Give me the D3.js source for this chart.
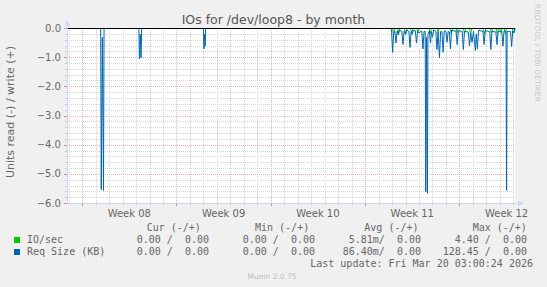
<!DOCTYPE html>
<html>
<head>
<meta charset="utf-8">
<script src="https://cdn.jsdelivr.net/npm/d3@7"></script>
<style>
  html, body { margin: 0; padding: 0; background: #f0f0f0; }
  svg { display: block; }
  text { font-family: "DejaVu Sans", sans-serif; fill: #666666; }
  .mono { font-family: "DejaVu Sans Mono", monospace; font-size: 10px; white-space: pre; }
</style>
</head>
<body>
<svg id="chart" width="547" height="287"></svg>
<script>
// time range of the month graph
const rangeStart = "2026-02-14T21:00";
const rangeEnd = "2026-03-20T03:00";

const weekStarts = ["2026-02-16T00:00", "2026-02-23T00:00", "2026-03-02T00:00", "2026-03-09T00:00", "2026-03-16T00:00"];
const weekLabels = ["Week 08", "Week 09", "Week 10", "Week 11", "Week 12"];
const yTicks = [0, -1, -2, -3, -4, -5, -6];

// Req Size (KB), read side (negative)
const reqSize = [
  ["2026-02-14T21:00", 0],
  ["2026-02-17T09:00", 0],
  ["2026-02-17T10:00", -5.52],
  ["2026-02-17T12:00", -0.3],
  ["2026-02-17T14:00", -5.55],
  ["2026-02-17T15:00", 0],
  ["2026-02-20T05:00", 0],
  ["2026-02-20T06:00", -1.04],
  ["2026-02-20T07:30", -0.2],
  ["2026-02-20T09:00", -1.0],
  ["2026-02-20T10:00", 0],
  ["2026-02-25T00:00", 0],
  ["2026-02-25T01:00", -0.7],
  ["2026-02-25T02:00", -0.2],
  ["2026-02-25T03:00", -0.6],
  ["2026-02-25T04:00", 0],
  ["2026-03-10T23:00", 0],
  ["2026-03-11T01:00", -0.82],
  ["2026-03-11T03:00", -0.1],
  ["2026-03-11T05:00", -0.12],
  ["2026-03-11T07:00", -0.5],
  ["2026-03-11T09:00", -0.08],
  ["2026-03-11T11:00", -0.22],
  ["2026-03-11T13:00", -0.06],
  ["2026-03-11T17:30", -0.1],
  ["2026-03-11T19:30", -0.55],
  ["2026-03-11T21:30", -0.08],
  ["2026-03-12T00:00", -0.2],
  ["2026-03-12T02:00", -0.05],
  ["2026-03-12T06:00", -0.1],
  ["2026-03-12T08:00", -0.65],
  ["2026-03-12T10:00", -0.1],
  ["2026-03-12T12:00", -0.2],
  ["2026-03-12T14:00", -0.06],
  ["2026-03-12T17:30", -0.08],
  ["2026-03-12T19:30", -0.5],
  ["2026-03-12T21:30", -0.1],
  ["2026-03-13T00:00", -0.15],
  ["2026-03-13T05:00", -0.08],
  ["2026-03-13T07:00", -0.7],
  ["2026-03-13T09:00", -0.1],
  ["2026-03-13T11:00", -0.1],
  ["2026-03-13T12:00", -5.6],
  ["2026-03-13T13:30", -0.3],
  ["2026-03-13T15:00", -5.65],
  ["2026-03-13T16:00", -0.2],
  ["2026-03-13T18:30", -0.08],
  ["2026-03-13T20:30", -0.5],
  ["2026-03-13T22:00", -0.1],
  ["2026-03-14T00:00", -0.3],
  ["2026-03-14T02:00", -0.05],
  ["2026-03-14T06:00", -0.1],
  ["2026-03-14T08:00", -0.72],
  ["2026-03-14T10:00", -0.12],
  ["2026-03-14T12:30", -1.0],
  ["2026-03-14T14:30", -0.1],
  ["2026-03-14T17:00", -0.12],
  ["2026-03-14T19:00", -0.82],
  ["2026-03-14T21:00", -0.08],
  ["2026-03-15T00:00", -0.1],
  ["2026-03-15T02:00", -0.47],
  ["2026-03-15T04:00", -0.1],
  ["2026-03-15T06:00", -0.12],
  ["2026-03-15T08:00", -0.7],
  ["2026-03-15T10:00", -0.06],
  ["2026-03-15T18:00", -0.1],
  ["2026-03-15T20:00", -0.55],
  ["2026-03-15T22:00", -0.08],
  ["2026-03-16T05:00", -0.1],
  ["2026-03-16T07:00", -0.72],
  ["2026-03-16T09:00", -0.1],
  ["2026-03-16T16:00", -0.12],
  ["2026-03-16T18:00", -0.6],
  ["2026-03-16T20:00", -0.15],
  ["2026-03-16T22:30", -0.47],
  ["2026-03-17T01:00", -0.1],
  ["2026-03-17T04:30", -0.75],
  ["2026-03-17T06:00", -0.2],
  ["2026-03-17T08:00", -0.7],
  ["2026-03-17T10:00", -0.06],
  ["2026-03-17T18:00", -0.1],
  ["2026-03-17T20:00", -0.55],
  ["2026-03-17T22:00", -0.08],
  ["2026-03-18T06:00", -0.1],
  ["2026-03-18T08:00", -0.72],
  ["2026-03-18T10:00", -0.1],
  ["2026-03-18T17:00", -0.12],
  ["2026-03-18T19:00", -0.55],
  ["2026-03-18T21:00", -0.1],
  ["2026-03-19T03:30", -0.1],
  ["2026-03-19T05:30", -0.6],
  ["2026-03-19T07:30", -0.08],
  ["2026-03-19T11:00", -0.1],
  ["2026-03-19T12:00", -5.55],
  ["2026-03-19T13:00", -0.1],
  ["2026-03-19T19:00", -0.1],
  ["2026-03-19T21:00", -0.62],
  ["2026-03-19T23:00", -0.08],
  ["2026-03-20T01:00", -0.15],
  ["2026-03-20T03:00", 0]
];

// IO/sec, read side (negative)
const ioSec = [
  ["2026-02-14T21:00", 0],
  ["2026-03-11T01:00", 0],
  ["2026-03-11T03:00", -0.17],
  ["2026-03-11T05:00", 0],
  ["2026-03-11T10:00", 0],
  ["2026-03-11T12:00", -0.15],
  ["2026-03-11T14:00", 0],
  ["2026-03-11T22:00", 0],
  ["2026-03-12T00:30", -0.18],
  ["2026-03-12T03:00", 0],
  ["2026-03-12T09:00", 0],
  ["2026-03-12T11:00", -0.15],
  ["2026-03-12T13:00", 0],
  ["2026-03-12T20:00", 0],
  ["2026-03-12T22:00", -0.15],
  ["2026-03-13T00:00", 0],
  ["2026-03-13T18:00", 0],
  ["2026-03-13T20:00", -0.18],
  ["2026-03-13T22:00", 0],
  ["2026-03-14T08:00", 0],
  ["2026-03-14T10:00", -0.16],
  ["2026-03-14T12:00", 0],
  ["2026-03-15T07:00", 0],
  ["2026-03-15T09:30", -0.18],
  ["2026-03-15T12:00", 0],
  ["2026-03-15T18:00", 0],
  ["2026-03-15T20:00", -0.15],
  ["2026-03-15T22:00", 0],
  ["2026-03-16T07:00", 0],
  ["2026-03-16T09:00", -0.17],
  ["2026-03-16T11:00", 0],
  ["2026-03-16T18:00", 0],
  ["2026-03-16T20:00", -0.2],
  ["2026-03-16T22:00", 0],
  ["2026-03-17T18:00", 0],
  ["2026-03-17T20:30", -0.18],
  ["2026-03-17T23:00", 0],
  ["2026-03-18T07:00", 0],
  ["2026-03-18T09:00", -0.15],
  ["2026-03-18T11:00", 0],
  ["2026-03-18T17:00", 0],
  ["2026-03-18T19:30", -0.17],
  ["2026-03-18T22:00", 0],
  ["2026-03-19T00:00", 0],
  ["2026-03-19T02:00", -0.15],
  ["2026-03-19T04:00", 0],
  ["2026-03-19T08:00", 0],
  ["2026-03-19T10:00", -0.18],
  ["2026-03-19T12:00", 0],
  ["2026-03-19T22:00", 0],
  ["2026-03-20T00:30", -0.16],
  ["2026-03-20T03:00", 0]
];

// legend
const legendNames = ["IO/sec", "Req Size (KB)"];
const legendColors = ["#00cc00", "#0066b3"];
const legendHeaders = ["Cur (-/+)", "Min (-/+)", "Avg (-/+)", "Max (-/+)"];
const curValues = ["0.00 /  0.00", "0.00 /  0.00"];
const minValues = ["0.00 /  0.00", "0.00 /  0.00"];
const avgValues = ["5.81m/  0.00", "86.40m/  0.00"];
const maxValues = ["4.40 /  0.00", "128.45 /  0.00"];
const lastUpdate = "Last update: Fri Mar 20 03:00:24 2026";

const parse = d3.utcParse("%Y-%m-%dT%H:%M");
const svg = d3.select("#chart");

const plotLeft = 67, plotRight = 515, plotTop = 28, plotBottom = 203;
const x = d3.scaleUtc().domain([parse(rangeStart), parse(rangeEnd)]).range([plotLeft, plotRight]);
const y = d3.scaleLinear().domain([-6, 0]).range([plotBottom, plotTop]);
const crisp = v => Math.round(v) + 0.5;

// canvas
svg.append("rect").attr("x", plotLeft).attr("y", plotTop)
  .attr("width", plotRight - plotLeft).attr("height", plotBottom - plotTop).attr("fill", "#ffffff");

const grid = svg.append("g").attr("fill", "none").attr("stroke-width", 1).attr("stroke-dasharray", "1,1");

// minor grid
const days = d3.utcDay.range(d3.utcDay.ceil(x.domain()[0]), x.domain()[1])
  .filter(d => d.getUTCDay() !== 1);
grid.selectAll(".vmin").data(days).join("line")
  .attr("x1", d => crisp(x(d))).attr("x2", d => crisp(x(d)))
  .attr("y1", plotTop).attr("y2", plotBottom)
  .attr("stroke", "#d4d4d4");
const minorY = d3.range(1, 30).filter(i => i % 5 !== 0).map(i => -i * 0.2);
grid.selectAll(".hmin").data(minorY).join("line")
  .attr("x1", plotLeft).attr("x2", plotRight)
  .attr("y1", d => crisp(y(d))).attr("y2", d => crisp(y(d)))
  .attr("stroke", "#d4d4d4");

// major grid
const weeks = weekStarts.map(parse);
grid.selectAll(".vmaj").data(weeks).join("line")
  .attr("x1", d => crisp(x(d))).attr("x2", d => crisp(x(d)))
  .attr("y1", plotTop).attr("y2", plotBottom)
  .attr("stroke", "#e8b2b2");
grid.selectAll(".hmaj").data(yTicks).join("line")
  .attr("x1", plotLeft).attr("x2", plotRight)
  .attr("y1", d => crisp(y(d))).attr("y2", d => crisp(y(d)))
  .attr("stroke", "#e8b2b2");

// tick marks
const ticks = svg.append("g").attr("stroke-width", 1);
ticks.selectAll(".tx").data(days).join("line")
  .attr("x1", d => crisp(x(d))).attr("x2", d => crisp(x(d)))
  .attr("y1", plotBottom).attr("y2", plotBottom + 2).attr("stroke", "#c8c8c8");
ticks.selectAll(".txm").data(weeks).join("line")
  .attr("x1", d => crisp(x(d))).attr("x2", d => crisp(x(d)))
  .attr("y1", plotBottom).attr("y2", plotBottom + 3).attr("stroke", "#e08080");
ticks.selectAll(".ty").data(minorY).join("line")
  .attr("x1", plotLeft - 2).attr("x2", plotLeft)
  .attr("y1", d => crisp(y(d))).attr("y2", d => crisp(y(d))).attr("stroke", "#c8c8c8");
ticks.selectAll(".tym").data(yTicks).join("line")
  .attr("x1", plotLeft - 3).attr("x2", plotLeft)
  .attr("y1", d => crisp(y(d))).attr("y2", d => crisp(y(d))).attr("stroke", "#e08080");

// data lines
const line = d3.line().x(d => x(parse(d[0]))).y(d => y(d[1]) + 0.5);
svg.append("path").datum(ioSec).attr("d", line)
  .attr("fill", "none").attr("stroke", legendColors[0]).attr("stroke-width", 1);
svg.append("path").datum(reqSize).attr("d", line)
  .attr("fill", "none").attr("stroke", legendColors[1]).attr("stroke-width", 1);

// zero line
svg.append("line").attr("x1", plotLeft).attr("x2", plotRight)
  .attr("y1", crisp(y(0))).attr("y2", crisp(y(0)))
  .attr("stroke", "#000000").attr("stroke-width", 1);

// axes + arrows
const axisColor = "#cfd6f8";
svg.append("line").attr("x1", plotLeft + 0.5).attr("x2", plotLeft + 0.5).attr("y1", plotBottom + 0.5).attr("y2", plotTop - 6)
  .attr("stroke", axisColor);
svg.append("line").attr("x1", plotLeft).attr("x2", plotRight + 4).attr("y1", plotBottom + 0.5).attr("y2", plotBottom + 0.5)
  .attr("stroke", axisColor);
svg.append("path").attr("d", `M${plotLeft - 2.5},${plotTop - 2}L${plotLeft + 3.5},${plotTop - 2}L${plotLeft + 0.5},${plotTop - 8}Z`)
  .attr("fill", axisColor);
svg.append("path").attr("d", `M${plotRight + 3},${plotBottom - 2.5}L${plotRight + 3},${plotBottom + 3.5}L${plotRight + 9},${plotBottom + 0.5}Z`)
  .attr("fill", axisColor);

// axis labels
svg.append("g").selectAll("text").data(yTicks).join("text")
  .attr("x", 61).attr("y", d => y(d) + 3.6)
  .attr("text-anchor", "end").attr("font-size", 10)
  .text(d => d3.format(".1f")(d));
svg.append("g").selectAll("text").data(weeks).join("text")
  .attr("x", d => x(d3.utcHour.offset(d, 84))).attr("y", 216.5)
  .attr("text-anchor", "middle").attr("font-size", 10)
  .text((d, i) => weekLabels[i]);

// title and side texts
svg.append("text").attr("x", 273.5).attr("y", 23.5).attr("text-anchor", "middle")
  .attr("font-size", 12.5).style("fill", "#555555").text("IOs for /dev/loop8 - by month");
svg.append("text").attr("transform", "translate(14,112) rotate(-90)").attr("text-anchor", "middle")
  .attr("font-size", 11).text("Units read (-) / write (+)");
svg.append("text").attr("transform", "translate(535,53) rotate(90)").attr("text-anchor", "middle")
  .attr("font-size", 7.6).style("fill", "#c8c8c8").text("RRDTOOL / TOBI OETIKER");
svg.append("text").attr("x", 272).attr("y", 279).attr("text-anchor", "middle")
  .attr("font-size", 7.5).style("fill", "#bbbbbb").text("Munin 2.0.75");

// legend
const leg = svg.append("g");
const headerX = [146.7, 255, 364.3, 472.7];
leg.selectAll(".hdr").data(legendHeaders).join("text")
  .attr("class", "mono").attr("x", (d, i) => headerX[i]).attr("y", 231).text(d => d);
const rowY = [243, 255];
legendNames.forEach((name, i) => {
  leg.append("rect").attr("x", 14).attr("y", rowY[i] - 6).attr("width", 6).attr("height", 6)
    .attr("fill", legendColors[i]);
  leg.append("text").attr("class", "mono").attr("x", 27).attr("y", rowY[i]).text(name);
  [[curValues, 209], [minValues, 315], [avgValues, 421], [maxValues, 527]].forEach(([vals, ex]) => {
    leg.append("text").attr("class", "mono").attr("x", ex).attr("y", rowY[i])
      .attr("text-anchor", "end").text(vals[i]);
  });
});
leg.append("text").attr("class", "mono").attr("x", 533).attr("y", 267)
  .attr("text-anchor", "end").text(lastUpdate);
</script>
</body>
</html>
